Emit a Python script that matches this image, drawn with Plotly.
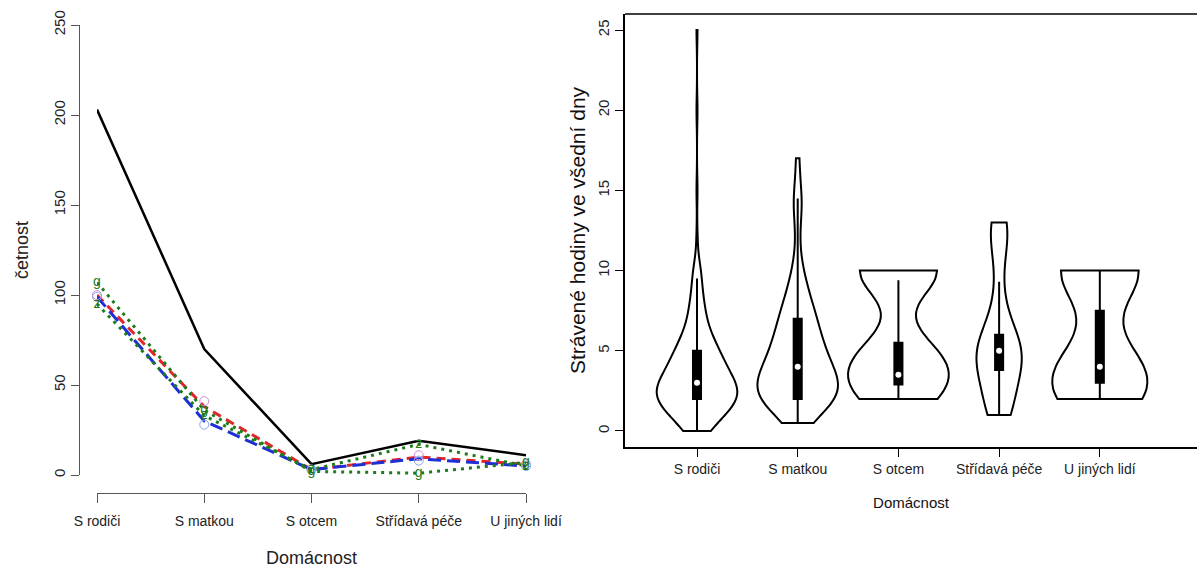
import numpy as np
import plotly.graph_objects as go

# ---------------- data ----------------
categories = ["S rodiči", "S matkou", "S otcem", "Střídavá péče", "U jiných lidí"]

# left chart (četnost)
freq_total = [203, 70, 6, 19, 11]
freq_red = [100, 38, 3, 10, 6]
freq_blue = [99, 30, 3, 9, 5]
freq_green_g = [107, 36, 2, 1, 7]
freq_green_z = [95, 33, 3, 17, 5]
pts_pink = [100, 41, 3, 11, 6]
pts_lightblue = [99, 28, 3, 8, 5]

# right chart (hours) – value / count samples per household type
rodice_vals = [0, 0.5, 1, 1.5, 2, 2.5, 3, 3.5, 4, 4.5, 5, 6, 7, 8, 9, 10, 12, 15, 20, 25]
rodice_cnts = [10, 3, 20, 6, 35, 8, 30, 5, 22, 3, 20, 13, 8, 7, 4, 5, 1, 1, 1, 1]
matka_vals = [0.5, 1, 1.5, 2, 2.5, 3, 4, 5, 6, 7, 8, 9, 10, 12, 14, 15, 17]
matka_cnts = [1, 3, 3, 9, 4, 10, 9, 7, 6, 5, 4, 2, 2, 1, 2, 1, 1]
otec_vals = [2, 2.5, 3.5, 4.5, 5, 10]
otec_cnts = [1, 1, 1, 1, 1, 3]
stridava_vals = [1, 1.5, 2, 3, 3.5, 4, 4.5, 5, 5.5, 6, 7, 8, 10, 12, 13]
stridava_cnts = [2, 1, 2, 1, 1, 2, 2, 3, 1, 2, 1, 1, 1, 2, 2]
jini_vals = [2, 2.5, 3, 3.5, 4, 5, 10]
jini_cnts = [2, 1, 1, 1, 1, 1, 5]

box_q1 = [2, 2, 2.9, 3.8, 3]
box_med = [3, 4, 3.5, 5, 4]
box_q3 = [5, 7, 5.5, 6, 7.5]
box_lo = [0, 0.5, 2, 1, 2]
box_hi = [9.5, 14.5, 9.4, 9.3, 10]

y_ticks_left = [0, 50, 100, 150, 200, 250]
y_ticks_right = [0, 5, 10, 15, 20, 25]

# ---------------- styles ----------------
FONT = "Liberation Sans"
W, H = 1197, 568
violin_widths = [0.8, 0.8, 1.0, 0.45, 0.94]
violin_bw = [0.9, 1.2, 1.6, 1.5, 2.0]
GREEN = "#1c7c1c"

fig = go.Figure()

# ---- left chart ----
fig.add_trace(go.Scatter(x=categories, y=freq_total, mode="lines",
                         line=dict(color="black", width=2.5), xaxis="x", yaxis="y",
                         showlegend=False, cliponaxis=False))
fig.add_trace(go.Scatter(x=categories, y=freq_red, mode="lines",
                         line=dict(color="#e3262a", width=3, dash="9px,6px"),
                         xaxis="x", yaxis="y", showlegend=False, cliponaxis=False))
fig.add_trace(go.Scatter(x=categories, y=freq_blue, mode="lines",
                         line=dict(color="#1f2fd6", width=3, dash="13px,6px"),
                         xaxis="x", yaxis="y", showlegend=False, cliponaxis=False))
for vals in (freq_green_g, freq_green_z):
    fig.add_trace(go.Scatter(x=categories, y=vals, mode="lines",
                             line=dict(color=GREEN, width=3, dash="3px,5px"),
                             xaxis="x", yaxis="y", showlegend=False, cliponaxis=False))
fig.add_trace(go.Scatter(x=categories, y=pts_pink, mode="markers",
                         marker=dict(symbol="circle-open", size=9, color="#d08ad8", line=dict(width=1)),
                         xaxis="x", yaxis="y", showlegend=False, cliponaxis=False))
fig.add_trace(go.Scatter(x=categories, y=pts_lightblue, mode="markers",
                         marker=dict(symbol="circle-open", size=9, color="#8aa6ea", line=dict(width=1)),
                         xaxis="x", yaxis="y", showlegend=False, cliponaxis=False))
for vals, letter in ((freq_green_g, "g"), (freq_green_z, "z")):
    fig.add_trace(go.Scatter(x=categories, y=vals, mode="text", text=[letter] * len(vals),
                             textposition="middle center",
                             textfont=dict(family=FONT, size=14, color=GREEN),
                             xaxis="x", yaxis="y", showlegend=False, cliponaxis=False))

# ---- right chart ----
groups = [(rodice_vals, rodice_cnts), (matka_vals, matka_cnts), (otec_vals, otec_cnts),
          (stridava_vals, stridava_cnts), (jini_vals, jini_cnts)]
for i, (vals, cnts) in enumerate(groups):
    data = np.repeat(np.array(vals, dtype=float), cnts)
    fig.add_trace(go.Violin(x=[categories[i]] * len(data), y=data, xaxis="x2", yaxis="y2",
                            spanmode="hard", bandwidth=violin_bw[i], width=violin_widths[i],
                            scalemode="width", points=False, box_visible=False,
                            meanline_visible=False, fillcolor="rgba(255,255,255,0)",
                            line=dict(color="black", width=2), showlegend=False,
                            hoverinfo="skip"))

fig.add_trace(go.Box(x=categories, q1=box_q1, median=box_med, q3=box_q3,
                     lowerfence=box_lo, upperfence=box_hi, xaxis="x2", yaxis="y2",
                     width=0.08, whiskerwidth=0, fillcolor="black",
                     line=dict(color="black", width=2), showlegend=False,
                     boxpoints=False))
fig.add_trace(go.Scatter(x=categories, y=box_med, mode="markers", xaxis="x2", yaxis="y2",
                         marker=dict(color="white", size=6, line=dict(width=0)),
                         showlegend=False))

x1_dom = [97 / W, 526 / W]
y1_dom = [(H - 475) / H, (H - 25) / H]
x2_dom = [625 / W, 1.0]
y2_dom = [(H - 447) / H, (H - 14) / H]

axis_font = dict(family=FONT, size=14, color="#222")
yaxis_font = dict(family=FONT, size=15, color="#222")
fig.update_layout(
    width=W, height=H, margin=dict(l=0, r=0, t=0, b=0),
    paper_bgcolor="white", plot_bgcolor="white",
    font=dict(family=FONT, color="#222"),
    violinmode="overlay", boxmode="overlay",
    xaxis=dict(domain=x1_dom, type="category", range=[0, 4], anchor="free",
               position=(H - 493) / H, showline=True, linecolor="#555", linewidth=1,
               ticks="outside", ticklen=9, tickcolor="#555", tickfont=axis_font,
               ticklabelstandoff=6,
               showgrid=False, zeroline=False, automargin=False,
               title=dict(text="Domácnost", font=dict(family=FONT, size=18, color="#222"),
                          standoff=24)),
    yaxis=dict(domain=y1_dom, range=[0, 250], anchor="free", position=79 / W,
               tickvals=y_ticks_left, tickangle=-90, showline=True, linecolor="#555",
               linewidth=1, ticks="outside", ticklen=8, tickcolor="#555",
               tickfont=yaxis_font, showgrid=False, zeroline=False, automargin=False,
               title=dict(text="četnost", font=dict(family=FONT, size=18, color="#222"),
                          standoff=16)),
    xaxis2=dict(domain=x2_dom, type="category", range=[-0.715, 4.965], anchor="y2",
                showline=True, linecolor="black", linewidth=1.5, ticks="outside",
                ticklen=8, tickcolor="black", tickfont=axis_font, showgrid=False,
                zeroline=False, automargin=False,
                title=dict(text="Domácnost", font=dict(family=FONT, size=15, color="#111"),
                           standoff=22)),
    yaxis2=dict(domain=y2_dom, range=[-1, 26], anchor="x2", tickvals=y_ticks_right,
                tickangle=-90, showline=True, linecolor="black", linewidth=1.5,
                ticks="outside", ticklen=8, tickcolor="black", tickfont=yaxis_font,
                showgrid=False, zeroline=False, automargin=False,
                title=dict(text="Strávené hodiny ve všední dny",
                           font=dict(family=FONT, size=21, color="#111"), standoff=4)),
    shapes=[dict(type="line", xref="paper", yref="paper", x0=x2_dom[0], x1=1.0,
                 y0=y2_dom[1], y1=y2_dom[1], line=dict(color="black", width=1.5))],
)

fig.write_html("out.html")
